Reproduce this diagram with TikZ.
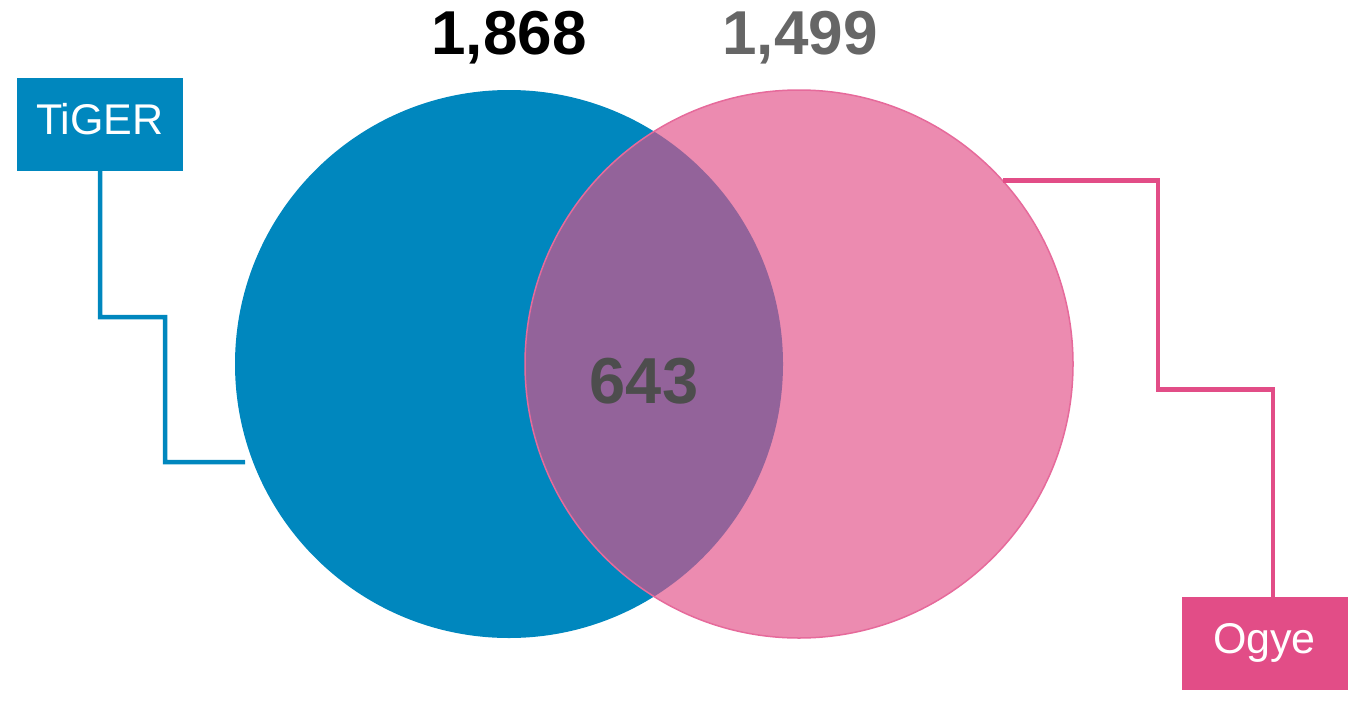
\documentclass[tikz,border=0pt]{standalone}
\usepackage{fontspec}
\setmainfont{Liberation Sans}
\definecolor{tigerblue}{HTML}{0087BE}
\definecolor{ogyepink}{HTML}{EC8BB0}
\definecolor{ogyeedge}{HTML}{E66A9B}
\definecolor{ogyedark}{HTML}{E24D87}
\definecolor{overlap}{HTML}{93639A}
\definecolor{numgray}{HTML}{666666}
\definecolor{midgray}{HTML}{4D4D4D}

\begin{document}
\begin{tikzpicture}[x=1pt,y=-1pt,
	setbox/.style={minimum width=166pt,minimum height=93pt,inner sep=0pt,text=white,
		text height=31pt,text depth=12pt,font=\fontsize{43}{43}\selectfont},
	setcirc/.style={circle,minimum size=548pt,inner sep=0pt},
	count/.style={anchor=base,font=\fontsize{62}{62}\selectfont\bfseries},
	leader/.style={line width=4.5pt}]
					\useasboundingbox (0,0) rectangle (1364,709);
					\node[setcirc,fill=tigerblue] (tigercirc) at (509,364) {};
					\node[setcirc,fill=ogyepink] (ogyecirc) at (799,364) {};
					\begin{scope}
						\clip (509,364) circle (274);
						\fill[overlap] (799,364) circle (274);
					\end{scope}
					\draw[ogyeedge,line width=1.5pt] (799,364) circle (274);
					\node[count] (tigernum) at (509,55) {1,868};
					\node[count,text=numgray] (ogyenum) at (800,55) {1,499};
					\node[count,text=midgray,font=\fontsize{65}{65}\selectfont\bfseries] (shared) at (644,403) {643};
					\node[setbox,fill=tigerblue] (tiger) at (100,124.5) {TiGER};
					\node[setbox,fill=ogyedark] (ogye) at (1264.5,643.5) {Ogye};
					\coordinate (tigerend) at (245,462);
					\draw[leader,tigerblue] (tiger.south) -- ++(0,146) -| ++(65,145) -- (tigerend);
					\draw[leader,ogyedark] (ogyecirc.42.6) -- ++(155,0) -- ++(0,209) -| ([xshift=8.5pt]ogye.north);
				\end{tikzpicture}
\end{document}
